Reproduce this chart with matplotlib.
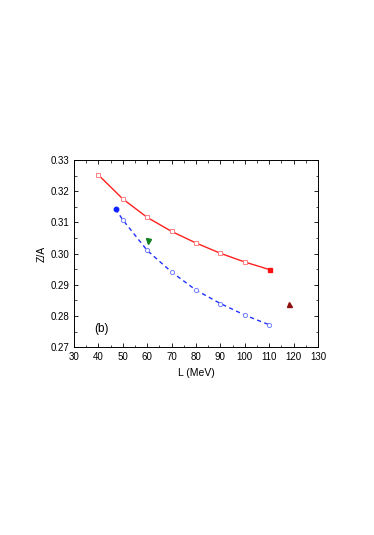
import matplotlib
matplotlib.use("Agg")
import matplotlib.pyplot as plt
from matplotlib.ticker import MultipleLocator

plt.rcParams['font.family'] = ['Liberation Sans', 'DejaVu Sans']

# red curve (open squares) and its end point (filled)
L_red = [40, 50, 60, 70, 80, 90, 100]
za_red = [0.3252, 0.3175, 0.3116, 0.3071, 0.3034, 0.3001, 0.2973]
L_red_end = 110.5
za_red_end = 0.2948

# blue dashed curve (open circles) and its start point (filled)
L_blue = [50, 60, 70, 80, 90, 100, 110]
za_blue = [0.3108, 0.3010, 0.2941, 0.2883, 0.2840, 0.2803, 0.2772]
L_blue_start = 47.0
za_blue_start = 0.3143

# single points
L_green, za_green = 60.5, 0.3040
L_dred, za_dred = 118.0, 0.2837

fig = plt.figure(figsize=(3.74, 5.35), dpi=100)
ax = fig.add_axes([0.198, 0.351, 0.652, 0.350])

ax.plot(L_red + [L_red_end], za_red + [za_red_end], '-', color='#ff2020', lw=1.0)
ax.plot(L_red, za_red, 's', ms=3.0, mfc='white', mec='#ff8080', mew=0.7)
ax.plot([L_red_end], [za_red_end], 's', ms=3.2, color='#ff1010')

ax.plot([L_blue_start] + L_blue, [za_blue_start] + za_blue, '--', color='#2030ff',
        lw=1.0, dashes=(3, 2.5))
ax.plot(L_blue, za_blue, 'o', ms=3.0, mfc='white', mec='#7080ff', mew=0.7)
ax.plot([L_blue_start], [za_blue_start], 'o', ms=3.2, color='#1020ff')

ax.plot([L_green], [za_green], 'v', ms=3.6, color='#108020')
ax.plot([L_dred], [za_dred], '^', ms=3.6, color='#901010')

ax.set_xlim(30, 130)
ax.set_ylim(0.27, 0.33)
ax.xaxis.set_major_locator(MultipleLocator(10))
ax.xaxis.set_minor_locator(MultipleLocator(5))
ax.yaxis.set_major_locator(MultipleLocator(0.01))
ax.yaxis.set_minor_locator(MultipleLocator(0.005))
ax.yaxis.set_major_formatter(plt.FormatStrFormatter('%.2f'))
ax.tick_params(which='both', direction='in', top=True, right=True, labelsize=7)
ax.tick_params(which='major', length=3, width=0.6)
ax.tick_params(which='minor', length=1.8, width=0.5)
for s in ax.spines.values():
    s.set_linewidth(0.7)

ax.set_xlabel('L (MeV)', fontsize=7.5, labelpad=4)
ax.set_ylabel('Z/A', fontsize=7.5, labelpad=3)
ax.text(38.3, 0.2757, '(b)', fontsize=8.5, ha='left', va='center')

fig.savefig('out.png', dpi=100)
